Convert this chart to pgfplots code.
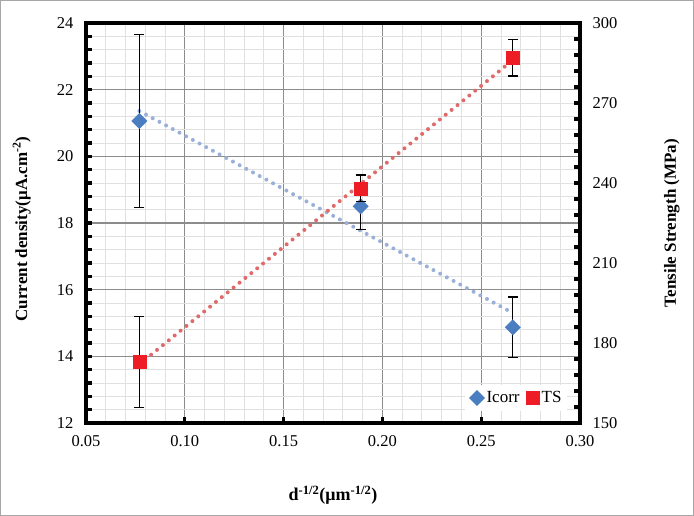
\documentclass[border=0pt]{standalone}
\usepackage{fontspec}
\setmainfont{Liberation Serif}
\usepackage{pgfplots}
\pgfplotsset{compat=1.18}
\definecolor{icorr}{HTML}{4A7EC0}
\definecolor{icorrtrend}{HTML}{9AB0D8}
\definecolor{ts}{HTML}{EE1C25}
\definecolor{tstrend}{HTML}{E06A6A}
\definecolor{majgrid}{HTML}{8C8C8C}
\definecolor{mingrid}{HTML}{E0E0E0}
\pgfplotstableread{
x y e
0.077 21.06 2.60
0.189 18.50 0.70
0.266 14.87 0.91
}\icorrdata
\pgfplotstableread{
x y e
0.077 172.8 17.0
0.189 238.0 5.0
0.266 286.9 6.8
}\tsdata
\pgfplotsset{
 base/.style={at={(86pt,93pt)}, anchor=south west, width=494pt, height=400pt, scale only axis,
   xmin=0.05, xmax=0.30,
   tick label style={font=\fontsize{16.5}{19}\selectfont},
   /pgf/number format/assume math mode=true},
}
\begin{document}
\begin{tikzpicture}[x=1pt,y=1pt]
\path[use as bounding box] (0,0) rectangle (694,516);
\draw[gray!70, line width=1pt] (0.5,0.5) rectangle (693.5,515.5);
% background grid
\begin{axis}[base, ymin=12, ymax=24,
 xtick={0.05,0.1,0.15,0.2,0.25,0.3},
 ytick={12,14,16,18,20,22,24},
 minor x tick num=4, minor y tick num=4,
 grid=both,
 major grid style={majgrid, line width=1.1pt},
 minor grid style={mingrid, line width=0.9pt},
 major tick length=0pt, minor tick length=0pt,
 xticklabels={}, yticklabels={},
 axis line style={draw=none},
]
\end{axis}
% left axis with Icorr
\begin{axis}[base, ymin=12, ymax=24,
 xtick={0.05,0.1,0.15,0.2,0.25,0.3},
 xticklabels={0.05,0.10,0.15,0.20,0.25,0.30},
 ytick={12,14,16,18,20,22,24},
 minor y tick num=4,
 axis line style={draw=none},
 tick style={black, line width=3.2pt},
 major tick length=6pt, minor tick length=6pt,
 xtick pos=bottom, ytick pos=left,
 yticklabel style={xshift=-9pt},
 xticklabel style={yshift=-9pt},
 xlabel={\textbf{d\textsuperscript{-1/2}(μm\textsuperscript{-1/2})}},
 xlabel style={at={(axis description cs:0.5,-0.18)}, anchor=center, font=\fontsize{18}{20}\selectfont},
 ylabel={\textbf{Current density(μA.cm\textsuperscript{-2})}},
 ylabel style={at={(axis description cs:-0.13,0.485)}, anchor=center, font=\fontsize{17}{20}\selectfont},
]
\addplot[icorrtrend, line width=4pt, line cap=round, dash pattern=on 0pt off 7.6pt, forget plot]
 coordinates {(0.077,21.36) (0.266,15.30)};
\addplot[only marks, mark=square*, mark size=5.4pt, mark options={rotate=45, fill=icorr, draw=icorr},
 error bars/.cd, y dir=both, y explicit,
 error bar style={black, line width=1.2pt},
 error mark options={rotate=90, black, mark size=5pt, line width=1.2pt}]
 table[x=x, y=y, y error=e] {\icorrdata};
\end{axis}
% right axis with TS
\begin{axis}[base, ymin=150, ymax=300, clip=false,
 xtick=\empty,
 ytick={150,180,210,240,270,300},
 minor y tick num=4,
 axis line style={draw=none},
 tick style={black, line width=3.2pt},
 major tick length=6pt, minor tick length=6pt,
 ytick pos=right, yticklabel pos=right,
 yticklabel style={xshift=9pt},
 ylabel={\textbf{Tensile Strength (MPa)}},
 ylabel style={at={(axis description cs:1.186,0.5)}, anchor=center, font=\fontsize{17}{20}\selectfont},
 legend style={at={(0.975,0.0625)}, anchor=east, draw=none, fill=white,
   font=\fontsize{17}{19}\selectfont, inner xsep=4pt, inner ysep=5pt},
 legend columns=2,
 legend cell align=left,
 /tikz/every even column/.append style={column sep=5pt},
]
\addlegendimage{only marks, mark=square*, mark size=5.4pt, mark options={rotate=45, fill=icorr, draw=icorr}}
\addlegendentry{Icorr}
\addplot[tstrend, line width=4pt, line cap=round, dash pattern=on 0pt off 7.6pt, forget plot]
 coordinates {(0.077,172.0) (0.266,286.1)};
\addplot[only marks, mark=square*, mark size=6.5pt, mark options={fill=ts, draw=ts},
 error bars/.cd, y dir=both, y explicit,
 error bar style={black, line width=1.2pt},
 error mark options={rotate=90, black, mark size=5pt, line width=1.2pt}]
 table[x=x, y=y, y error=e] {\tsdata};
\addlegendentry{TS}
\draw[black, line width=3.5pt] (rel axis cs:0,0) rectangle (rel axis cs:1,1);
\end{axis}
\end{tikzpicture}
\end{document}
